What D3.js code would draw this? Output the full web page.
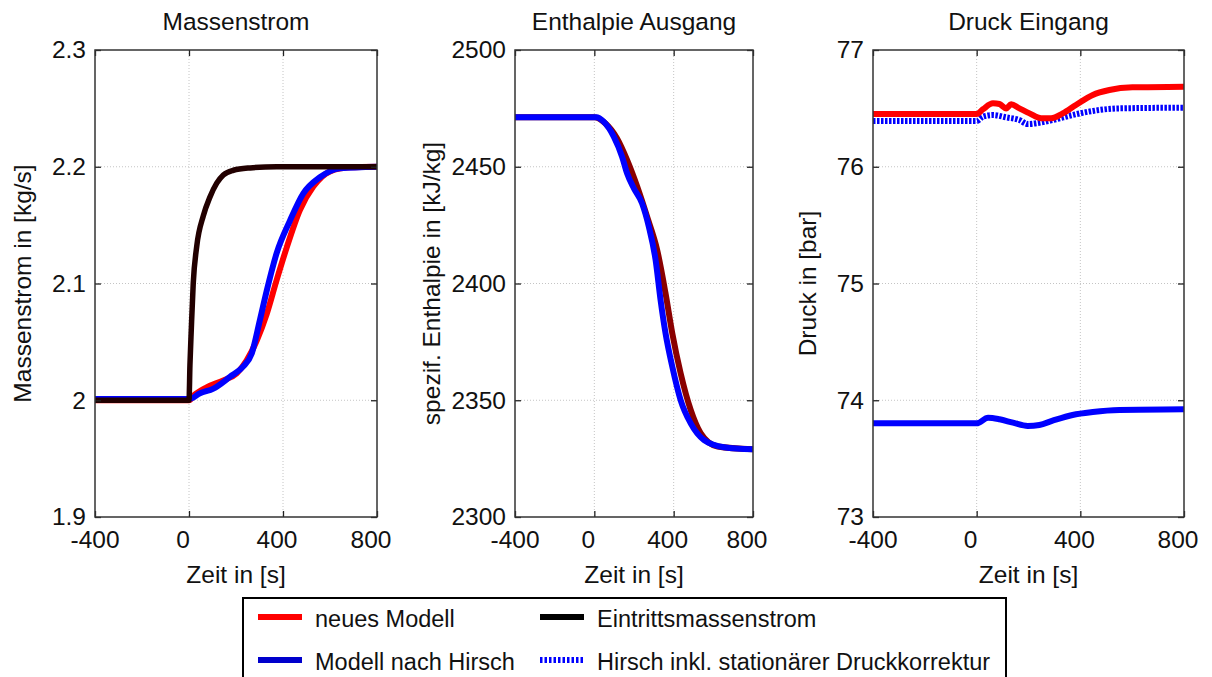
<!DOCTYPE html>
<html>
<head>
<meta charset="utf-8">
<script src="https://cdn.jsdelivr.net/npm/d3@7/dist/d3.min.js"></script>
<style>
  body { margin: 0; background: #fff; }
  svg { display: block; font-family: "Liberation Sans", Arial, sans-serif; }
</style>
</head>
<body>
<svg id="chart" width="1212" height="677"></svg>
<script>
// ---- data ----
const timeTicks = [-400, 0, 400, 800];
const massTicks = [1.9, 2.0, 2.1, 2.2, 2.3];
const enthTicks = [2300, 2350, 2400, 2450, 2500];
const pressTicks = [73, 74, 75, 76, 77];

// Massenstrom [kg/s]
const massInlet = [[-400, 2.0], [0, 2.0], [4, 2.03], [10, 2.062], [18, 2.1], [33, 2.132], [61, 2.158],
  [89, 2.174], [118, 2.186], [146, 2.193], [189, 2.197], [260, 2.199], [373, 2.2], [800, 2.2]];
const massNeu = [[-400, 2.0], [0, 2.0], [20, 2.004], [75, 2.011], [146, 2.017], [203, 2.023], [245, 2.034],
  [288, 2.051], [331, 2.074], [373, 2.103], [416, 2.131], [472, 2.163], [529, 2.183], [600, 2.196],
  [685, 2.1995], [800, 2.2]];
const massHirsch = [[-400, 2.001], [0, 2.001], [47, 2.006], [104, 2.010], [174, 2.020], [231, 2.029],
  [267, 2.040], [302, 2.069], [331, 2.094], [373, 2.126], [430, 2.154], [486, 2.177], [557, 2.191],
  [643, 2.1986], [800, 2.2]];

// Enthalpie Ausgang [kJ/kg]
const enthNeu = [[-400, 2471.2], [0, 2471.2], [55, 2468.6], [114, 2462.2], [165, 2452.9], [216, 2441.5],
  [266, 2428.6], [317, 2414.3], [359, 2395.8], [393, 2378.7], [435, 2361.6], [486, 2345.8], [536, 2335.9],
  [621, 2330.2], [800, 2329]];
const enthHirsch = [[-400, 2471.2], [10, 2471.2], [47, 2469.3], [98, 2462.9], [140, 2454.3], [165, 2447.2],
  [199, 2440.8], [241, 2434.3], [275, 2424.3], [309, 2410], [334, 2392.9], [359, 2378.7], [393, 2364.4],
  [435, 2350.1], [486, 2340.1], [553, 2333.0], [654, 2329.9], [800, 2329]];

// Druck Eingang [bar]
const pressNeu = [[-400, 76.452], [0, 76.452], [24, 76.492], [63, 76.543], [88, 76.537], [114, 76.50],
  [133, 76.535], [165, 76.50], [204, 76.457], [249, 76.415], [287, 76.415], [332, 76.457], [383, 76.529],
  [448, 76.615], [512, 76.657], [601, 76.68], [800, 76.686]];
const pressHirsch = [[-400, 73.802], [0, 73.802], [44, 73.85], [88, 73.837], [140, 73.808], [197, 73.78],
  [242, 73.788], [293, 73.825], [370, 73.874], [448, 73.899], [551, 73.916], [800, 73.922]];
const pressHirschKorr = [[-400, 76.392], [0, 76.392], [24, 76.429], [63, 76.443], [114, 76.423],
  [165, 76.40], [197, 76.366], [242, 76.377], [293, 76.40], [370, 76.443], [448, 76.478], [551, 76.50],
  [800, 76.506]];

const legendItems = [
  { label: "neues Modell", color: "#ff0000", dash: null },
  { label: "Eintrittsmassenstrom", color: "#000000", dash: null },
  { label: "Modell nach Hirsch", color: "#0000cc", dash: null },
  { label: "Hirsch inkl. stationärer Druckkorrektur", color: "#0000ff", dash: "2.5,2" }
];

// ---- layout ----
const svg = d3.select("#chart");
const plotTop = 50, plotBottom = 517;
const fontSize = 24.5;

const panels = [
  { title: "Massenstrom", ylabel: "Massenstrom in [kg/s]", x0: 95, x1: 377, labelX: 31,
    domain: [1.9, 2.3], ticks: massTicks, fmt: d3.format(".1~f"),
    series: [
      { data: massNeu, color: "#ff0000", width: 6 },
      { data: massHirsch, color: "#0000ff", width: 6 },
      { data: massInlet, color: "#220000", width: 5.5 }
    ] },
  { title: "Enthalpie Ausgang", ylabel: "spezif. Enthalpie in [kJ/kg]", x0: 515, x1: 753, labelX: 440,
    domain: [2300, 2500], ticks: enthTicks, fmt: d3.format("d"),
    series: [
      { data: enthNeu, color: "#8a0000", width: 6 },
      { data: enthHirsch, color: "#0000ff", width: 6 }
    ] },
  { title: "Druck Eingang", ylabel: "Druck in [bar]", x0: 873, x1: 1184, labelX: 816,
    domain: [73, 77], ticks: pressTicks, fmt: d3.format("d"),
    series: [
      { data: pressHirsch, color: "#0000ff", width: 6 },
      { data: pressHirschKorr, color: "#0000ff", width: 6, dash: "2.5,1.5" },
      { data: pressNeu, color: "#ff0000", width: 6 }
    ] }
];

panels.forEach((p, i) => {
  const x = d3.scaleLinear().domain([-400, 800]).range([p.x0, p.x1]);
  const y = d3.scaleLinear().domain(p.domain).range([plotBottom, plotTop]);
  const g = svg.append("g");

  // grid
  g.append("g").selectAll("line").data(timeTicks.slice(1, -1)).join("line")
    .attr("x1", d => x(d)).attr("x2", d => x(d)).attr("y1", plotTop).attr("y2", plotBottom)
    .attr("stroke", "#c4c4c4").attr("stroke-width", 1).attr("stroke-dasharray", "1,2");
  g.append("g").selectAll("line").data(p.ticks.slice(1, -1)).join("line")
    .attr("y1", d => y(d)).attr("y2", d => y(d)).attr("x1", p.x0).attr("x2", p.x1)
    .attr("stroke", "#c4c4c4").attr("stroke-width", 1).attr("stroke-dasharray", "1,2");

  // lines
  const clipId = "clip" + i;
  g.append("clipPath").attr("id", clipId).append("rect")
    .attr("x", p.x0).attr("y", plotTop).attr("width", p.x1 - p.x0).attr("height", plotBottom - plotTop);
  const line = d3.line().x(d => x(d[0])).y(d => y(d[1])).curve(d3.curveMonotoneX);
  g.append("g").attr("clip-path", `url(#${clipId})`).selectAll("path").data(p.series).join("path")
    .attr("d", s => line(s.data))
    .attr("fill", "none")
    .attr("stroke", s => s.color)
    .attr("stroke-width", s => s.width)
    .attr("stroke-dasharray", s => s.dash || null)
    .attr("stroke-linejoin", "round");

  // axes (ticks inside, mirrored)
  const tick = 6;
  g.append("g").attr("transform", `translate(0,${plotBottom})`)
    .call(d3.axisBottom(x).tickValues(timeTicks).tickSize(-tick).tickFormat(""))
    .call(a => a.select(".domain").remove());
  g.append("g").attr("transform", `translate(0,${plotTop})`)
    .call(d3.axisTop(x).tickValues(timeTicks).tickSize(-tick).tickFormat(""))
    .call(a => a.select(".domain").remove());
  g.append("g").attr("transform", `translate(${p.x0},0)`)
    .call(d3.axisLeft(y).tickValues(p.ticks).tickSize(-tick).tickFormat(""))
    .call(a => a.select(".domain").remove());
  g.append("g").attr("transform", `translate(${p.x1},0)`)
    .call(d3.axisRight(y).tickValues(p.ticks).tickSize(-tick).tickFormat(""))
    .call(a => a.select(".domain").remove());
  g.selectAll(".tick line").attr("stroke", "#222").attr("stroke-width", 1.3);

  g.append("rect")
    .attr("x", p.x0).attr("y", plotTop).attr("width", p.x1 - p.x0).attr("height", plotBottom - plotTop)
    .attr("fill", "none").attr("stroke", "#333").attr("stroke-width", 1.5);

  // tick labels
  g.append("g").selectAll("text").data(timeTicks).join("text")
    .attr("x", d => x(d) + (d >= 0 ? -6 : 0)).attr("y", plotBottom + 31)
    .attr("text-anchor", "middle").attr("font-size", fontSize).attr("fill", "#111")
    .text(d => d);
  g.append("g").selectAll("text").data(p.ticks).join("text")
    .attr("x", p.x0 - 9).attr("y", d => y(d)).attr("dy", "0.34em")
    .attr("text-anchor", "end").attr("font-size", fontSize).attr("fill", "#111")
    .text(d => p.fmt(d));

  // titles
  g.append("text").attr("x", (p.x0 + p.x1) / 2).attr("y", 30)
    .attr("text-anchor", "middle").attr("font-size", fontSize).attr("fill", "#111").text(p.title);
  g.append("text").attr("x", (p.x0 + p.x1) / 2).attr("y", 583)
    .attr("text-anchor", "middle").attr("font-size", fontSize).attr("fill", "#111").text("Zeit in [s]");
  g.append("text")
    .attr("transform", `translate(${p.labelX},${(plotTop + plotBottom) / 2}) rotate(-90)`)
    .attr("text-anchor", "middle").attr("font-size", fontSize).attr("fill", "#111").text(p.ylabel);
});

// ---- legend ----
const lg = svg.append("g");
lg.append("rect").attr("x", 243).attr("y", 598).attr("width", 763).attr("height", 100)
  .attr("fill", "#fff").attr("stroke", "#000").attr("stroke-width", 2);
const cols = [258, 540];
const rows = [617, 660];
const items = lg.selectAll("g.item").data(legendItems).join("g").attr("class", "item")
  .attr("transform", (d, i) => `translate(${cols[i % 2]},${rows[Math.floor(i / 2)]})`);
items.append("line").attr("x1", 0).attr("x2", 44).attr("y1", 0).attr("y2", 0)
  .attr("stroke", d => d.color).attr("stroke-width", 6)
  .attr("stroke-dasharray", d => d.dash);
items.append("text").attr("x", 57).attr("y", 9.5).attr("font-size", 23.5).attr("fill", "#111")
  .text(d => d.label);
</script>
</body>
</html>
